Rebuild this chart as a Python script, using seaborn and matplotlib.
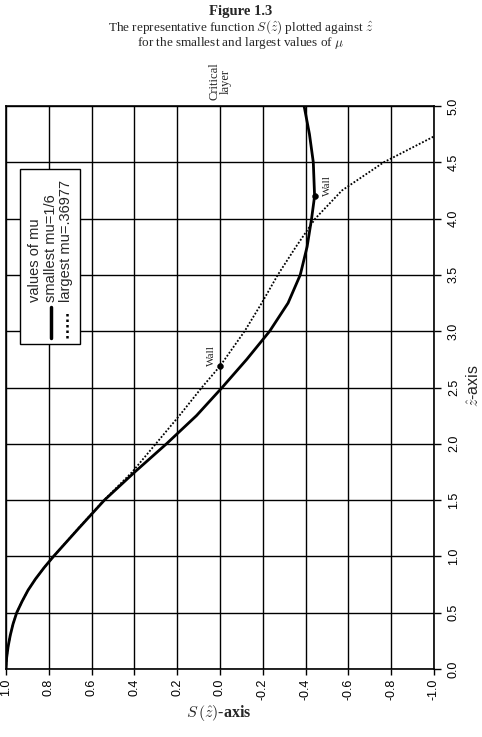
import matplotlib
matplotlib.use("Agg")
import matplotlib.pyplot as plt
from matplotlib.patches import Rectangle
from matplotlib.lines import Line2D
import seaborn as sns
import pandas as pd

# values (S horizontal, z-hat vertical)
z_small = [0.0, 0.1, 0.2, 0.3, 0.4, 0.5, 0.6, 0.7, 0.8, 0.9, 1.0, 1.25, 1.5, 1.75,
           2.0, 2.25, 2.5, 2.75, 3.0, 3.25, 3.5, 3.75, 4.0, 4.2, 4.5, 4.75, 5.0]
s_small = [1.0, 0.997, 0.99, 0.98, 0.967, 0.95, 0.925, 0.897, 0.862, 0.822, 0.778, 0.66,
           0.54, 0.398, 0.25, 0.11, -0.01, -0.125, -0.232, -0.318, -0.375, -0.407,
           -0.428, -0.442, -0.436, -0.418, -0.393]

z_large = [0.0, 0.1, 0.2, 0.3, 0.4, 0.5, 0.6, 0.7, 0.8, 0.9, 1.0, 1.25, 1.5, 1.75,
           2.0, 2.25, 2.5, 2.69, 3.0, 3.25, 3.5, 3.75, 4.0, 4.25, 4.5, 4.73]
s_large = [1.0, 0.997, 0.99, 0.98, 0.967, 0.95, 0.925, 0.897, 0.862, 0.822, 0.778, 0.662,
           0.542, 0.41, 0.30, 0.19, 0.085, 0.0, -0.115, -0.195, -0.27, -0.355,
           -0.445, -0.57, -0.765, -1.0]

wall_s = [-0.442, 0.0]
wall_z = [4.2, 2.69]

s_ticks = [1.0, 0.8, 0.6, 0.4, 0.2, 0.0, -0.2, -0.4, -0.6, -0.8, -1.0]
z_ticks = [0.0, 0.5, 1.0, 1.5, 2.0, 2.5, 3.0, 3.5, 4.0, 4.5, 5.0]

legend_title = "values of mu"
legend_labels = ["smallest mu=1/6", "largest mu=.36977"]

sns.set_theme(style="white")
plt.rcParams["font.family"] = ["Liberation Sans", "DejaVu Sans"]
plt.rcParams["mathtext.fontset"] = "cm"
plt.rcParams["axes.unicode_minus"] = False

W, H = 482, 737
fig = plt.figure(figsize=(W / 100, H / 100), dpi=100)
ax = fig.add_axes([6 / W, (H - 669) / H, 428 / W, 563 / H])

# ==============================
# curves
# ==============================
small = pd.DataFrame({"S": s_small, "z": z_small})
large = pd.DataFrame({"S": s_large, "z": z_large})
sns.lineplot(data=small, x="S", y="z", sort=False, estimator=None,
             color="black", lw=2.0, ax=ax, zorder=4)
sns.lineplot(data=large, x="S", y="z", sort=False, estimator=None,
             color="black", lw=1.3, linestyle=(0, (1, 1)), ax=ax, zorder=4)
sns.scatterplot(x=wall_s, y=wall_z, color="black", s=18, edgecolor="black",
                ax=ax, zorder=5)

ax.set_xlim(1, -1)
ax.set_ylim(0, 5)
ax.set_xlabel("")
ax.set_ylabel("")

ax.set_xticks(s_ticks)
ax.set_xticklabels([f"{v:.1f}" for v in s_ticks], rotation=90)
ax.yaxis.tick_right()
ax.set_yticks(z_ticks)
ax.set_yticklabels([f"{v:.1f}" for v in z_ticks], rotation=90, va="center")

ax.grid(True, color="black", lw=1.0)
ax.tick_params(axis="x", bottom=True, direction="out", length=4, width=1,
               pad=3, labelsize=9, colors="black")
ax.tick_params(axis="y", right=True, left=False, direction="out", length=5,
               width=1, pad=5, labelsize=9, colors="black")
for sp in ax.spines.values():
    sp.set_color("black")
    sp.set_linewidth(1.2)

# annotations
serif = ["Liberation Serif", "DejaVu Serif"]
ax.annotate("Wall", xy=(wall_s[0], wall_z[0]), xytext=(9, 0), textcoords="offset points",
            rotation=90, ha="center", va="bottom", fontsize=8, family=serif)
ax.annotate("Wall", xy=(wall_s[1], wall_z[1]), xytext=(-6, 0), textcoords="offset points",
            rotation=90, ha="center", va="bottom", fontsize=8, family=serif)
ax.annotate("Critical\nlayer", xy=(0.0, 5.0), xytext=(0, 4), textcoords="offset points",
            rotation=90, ha="center", va="bottom", multialignment="center",
            fontsize=9, family=serif, linespacing=0.9, annotation_clip=False)

# ==============================
# rotated legend box (drawn by hand)
# ==============================
ax.add_patch(Rectangle((0.0327, 0.577), 0.140, 0.311, transform=ax.transAxes,
                       facecolor="white", edgecolor="black", lw=1.0, zorder=6))
for xf, txt in zip([0.068, 0.104, 0.140], [legend_title] + legend_labels):
    ax.text(xf, 0.652, txt, transform=ax.transAxes, rotation=90, ha="center",
            va="bottom", fontsize=10.5, zorder=7)
ax.add_line(Line2D([0.105, 0.105], [0.588, 0.643], transform=ax.transAxes,
                   color="black", lw=2.5, zorder=7))
ax.add_line(Line2D([0.1425, 0.1425], [0.588, 0.632], transform=ax.transAxes,
                   color="black", lw=1.8, linestyle=(0, (1, 1.2)), zorder=7))

# axis labels
fig.text(219 / W, 1 - 713 / H, r"$S\,(\hat{z})$-axis", ha="center", va="center",
         fontsize=11.5, family=serif, weight="bold")
fig.text(473 / W, 1 - 386 / H, r"$\hat{z}$-axis", ha="center", va="center",
         rotation=90, fontsize=11.5)

# caption
fig.text(0.5, 1 - 12 / H, "Figure 1.3", ha="center", va="center",
         fontsize=10.5, family=serif, weight="bold")
fig.text(0.5, 1 - 27 / H, r"The representative function $S(\hat{z})$ plotted against $\hat{z}$",
         ha="center", va="center", fontsize=9.5, family=serif)
fig.text(0.5, 1 - 43 / H, r"for the smallest and largest values of $\mu$",
         ha="center", va="center", fontsize=9.5, family=serif)

fig.savefig("out.png", dpi=100, facecolor="white")
